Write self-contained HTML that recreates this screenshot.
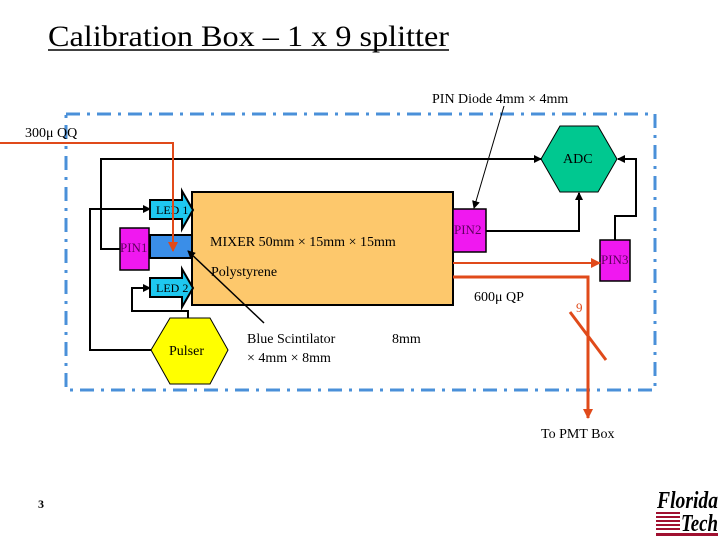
<!DOCTYPE html>
<html><head><style>
body{margin:0;background:#fff;}
svg text{font-family:"Liberation Serif",serif;}
</style></head><body>
<svg width="720" height="540" viewBox="0 0 720 540" xmlns="http://www.w3.org/2000/svg">
<defs>
<marker id="a" markerWidth="8" markerHeight="8" refX="7" refY="4" orient="auto" markerUnits="userSpaceOnUse"><path d="M0,0 L8,4 L0,8 z" fill="#000"/></marker>
<marker id="r" markerWidth="10" markerHeight="10" refX="9" refY="5" orient="auto" markerUnits="userSpaceOnUse"><path d="M0,0 L10,5 L0,10 z" fill="#e04a1a"/></marker>
</defs>
<text x="48" y="46" font-size="30" textLength="401" lengthAdjust="spacingAndGlyphs">Calibration Box – 1 x 9 splitter</text>
<line x1="48" y1="50" x2="449" y2="50" stroke="#000" stroke-width="1.5"/>
<rect x="66" y="114" width="589" height="276" fill="none" stroke="#4a90d9" stroke-width="3" stroke-dasharray="14,7,3,7"/>
<text x="432" y="103" font-size="14">PIN Diode 4mm × 4mm</text>
<text x="25" y="137" font-size="14">300μ  QQ</text>
<rect x="192" y="192" width="261" height="113" fill="#fdc86c" stroke="#000" stroke-width="2"/>
<text x="210" y="246" font-size="14">MIXER 50mm × 15mm × 15mm</text>
<text x="211" y="276" font-size="14">Polystyrene</text>
<path d="M150,200 L182,200 L182,191 L193,210 L182,229 L182,219 L150,219 Z" fill="#1ec8f0" stroke="#000" stroke-width="2"/>
<text x="156" y="214" font-size="12">LED 1</text>
<path d="M150,278 L182,278 L182,269 L193,288 L182,307 L182,297 L150,297 Z" fill="#1ec8f0" stroke="#000" stroke-width="2"/>
<text x="156" y="292" font-size="12">LED 2</text>
<rect x="150" y="235" width="42" height="23" fill="#3a8ee8" stroke="#000" stroke-width="2"/>
<rect x="120" y="228" width="29" height="42" fill="#f018f0" stroke="#000" stroke-width="1.5"/>
<text x="120" y="252" font-size="13" fill="#600060">PIN1</text>
<rect x="453" y="209" width="33" height="43" fill="#f018f0" stroke="#000" stroke-width="1.5"/>
<text x="454" y="234" font-size="13" fill="#600060">PIN2</text>
<rect x="600" y="240" width="30" height="41" fill="#f018f0" stroke="#000" stroke-width="1.5"/>
<text x="601" y="264" font-size="13" fill="#600060">PIN3</text>
<polygon points="541,159 560,126 598,126 617,159 598,192 560,192" fill="#00c890" stroke="#000" stroke-width="1"/>
<text x="563" y="163" font-size="14">ADC</text>
<polygon points="151,350 170,318 210,318 228,350 210,384 170,384" fill="#ffff00" stroke="#000" stroke-width="1"/>
<text x="169" y="355" font-size="14">Pulser</text>
<g fill="none" stroke="#000" stroke-width="2">
<polyline points="120,249 101,249 101,159 541,159" marker-end="url(#a)"/>
<polyline points="151,350 90,350 90,209 150,209" marker-end="url(#a)"/>
<polyline points="188,318 188,311 132,311 132,288 150,288" marker-end="url(#a)"/>
<polyline points="486,231 579,231 579,193" marker-end="url(#a)"/>
<polyline points="615,240 615,216 636,216 636,159 618,159" marker-end="url(#a)"/>
</g>
<line x1="504" y1="106" x2="474" y2="208" stroke="#000" stroke-width="1" marker-end="url(#a)"/>
<line x1="264" y1="323" x2="188" y2="251" stroke="#000" stroke-width="1.5" marker-end="url(#a)"/>
<g fill="none" stroke="#e04a1a">
<polyline points="0,143 173,143 173,251" stroke-width="2" marker-end="url(#r)"/>
<line x1="453" y1="263" x2="600" y2="263" stroke-width="2" marker-end="url(#r)"/>
<polyline points="453,277 588,277 588,418" stroke-width="3" marker-end="url(#r)"/>
<line x1="570" y1="312" x2="606" y2="360" stroke-width="3"/>
</g>
<text x="576" y="312" font-size="13" fill="#e04a1a">9</text>
<text x="474" y="301" font-size="14">600μ QP</text>
<text x="247" y="343" font-size="14">Blue Scintilator</text>
<text x="247" y="362" font-size="14">× 4mm × 8mm</text>
<text x="392" y="343" font-size="14">8mm</text>
<text x="541" y="438" font-size="14">To PMT Box</text>
<text x="38" y="508" font-size="12" font-weight="bold">3</text>
<text x="657" y="508" font-size="24" font-style="italic" font-weight="bold" textLength="61" lengthAdjust="spacingAndGlyphs">Florida</text>
<g fill="#a01030"><rect x="656" y="512" width="24" height="2"/><rect x="656" y="516" width="24" height="2"/><rect x="656" y="520" width="24" height="2"/><rect x="656" y="524" width="24" height="2"/><rect x="656" y="528" width="24" height="2"/><rect x="656" y="533" width="62" height="3"/></g>
<text x="681" y="531" font-size="24" font-style="italic" font-weight="bold" textLength="37" lengthAdjust="spacingAndGlyphs">Tech</text>
</svg>
</body></html>
